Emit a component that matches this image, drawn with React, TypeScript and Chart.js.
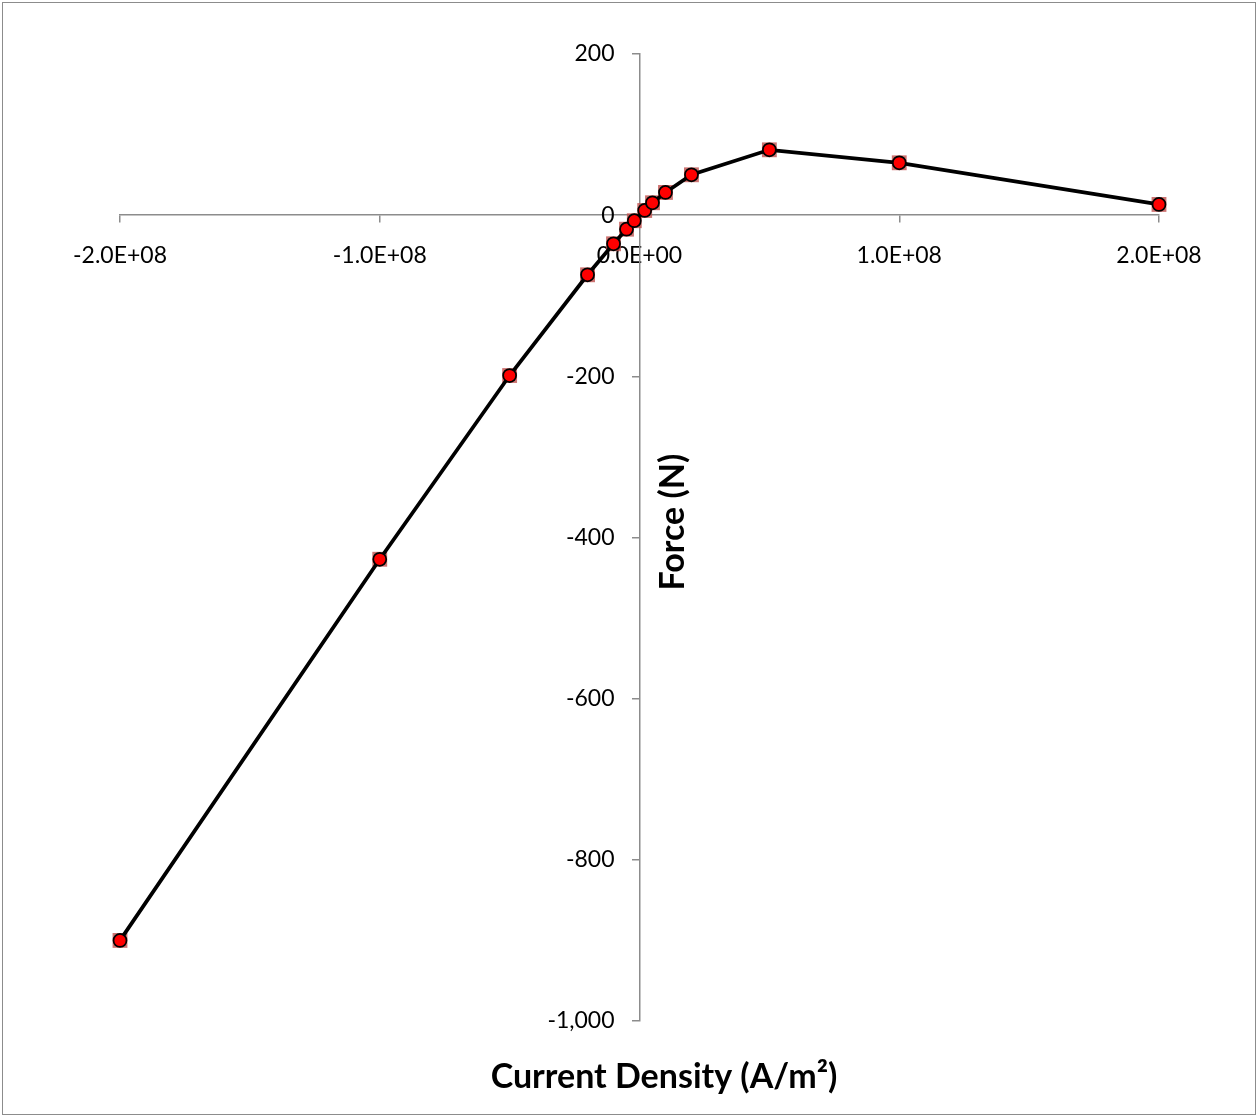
import React, { useEffect, useRef } from "react";
import { Chart, registerables } from "chart.js";

Chart.register(...registerables);

const currentDensity = [-2e8, -1e8, -5e7, -2e7, -1e7, -5e6, -2e6, 2e6, 5e6, 1e7, 2e7, 5e7, 1e8, 2e8];
const force = [-900, -427, -199, -74, -35.5, -17.4, -6.9, 5.8, 15.4, 28.2, 50.1, 81.1, 65, 13.3];
const xTicks = [-2e8, -1e8, 0, 1e8, 2e8];
const yTicks = [-1000, -800, -600, -400, -200, 0, 200];
const xTitle = "Current Density (A/m²)";
const yTitle = "Force (N)";

const FONT = "Lato, 'Open Sans', sans-serif";

const fmtX = (v: number) => {
  const [m, e] = v.toExponential(1).toUpperCase().split("E");
  const sign = e.startsWith("-") ? "-" : "+";
  const digits = e.replace(/[+-]/, "").padStart(2, "0");
  return `${m}E${sign}${digits}`;
};
const fmtY = (v: number) => v.toLocaleString("en-US");

const decor = {
  id: "decor",
  afterDraw(chart: any) {
    const { ctx, width, height } = chart;
    const xs = chart.scales.x;
    const ys = chart.scales.y;
    ctx.save();
    ctx.strokeStyle = "#8c8c8c";
    ctx.lineWidth = 1;
    ctx.strokeRect(2.5, 2.5, width - 5, height - 5);
    // y tick labels
    ctx.fillStyle = "#000";
    ctx.font = `23px ${FONT}`;
    ctx.textAlign = "right";
    ctx.textBaseline = "middle";
    const x0 = xs.getPixelForValue(0);
    yTicks.forEach((v) => ctx.fillText(fmtY(v), x0 - 25, ys.getPixelForValue(v)));
    // titles
    ctx.font = `bold 34px ${FONT}`;
    ctx.textAlign = "center";
    ctx.fillText(xTitle, 664, 1077);
    ctx.translate(x0 + 34, 522);
    ctx.rotate(-Math.PI / 2);
    ctx.fillText(yTitle, 0, 0);
    ctx.restore();
  },
};

export default function App() {
  const ref = useRef<HTMLCanvasElement>(null);
  useEffect(() => {
    const pts = currentDensity.map((x, i) => ({ x, y: force[i] }));
    const chart = new Chart(ref.current!, {
      type: "scatter",
      data: {
        datasets: [
          {
            data: pts,
            showLine: true,
            clip: false,
            borderColor: "#000",
            borderWidth: 3.75,
            pointBackgroundColor: "#ff0000",
            pointBorderColor: "#000",
            pointBorderWidth: 1.75,
            pointRadius: 6.5,
            order: 0,
          },
          {
            data: pts,
            showLine: false,
            clip: false,
            pointStyle: "rect",
            pointRadius: 10.5,
            pointBackgroundColor: "rgba(192,80,77,0.8)",
            pointBorderWidth: 0,
            borderWidth: 0,
            order: 1,
          },
        ],
      },
      options: {
        animation: false,
        responsive: false,
        layout: { padding: { left: 120, right: 99, top: 54, bottom: 96 } },
        plugins: { legend: { display: false }, tooltip: { enabled: false } },
        scales: {
          x: {
            type: "linear",
            position: { y: 0 },
            min: -2e8,
            max: 2e8,
            afterBuildTicks: (s: any) => { s.ticks = xTicks.map((v) => ({ value: v })); },
            ticks: { callback: (v: any) => fmtX(Number(v)), font: { family: FONT, size: 23 }, color: "#000", padding: 20, maxRotation: 0, autoSkip: false },
            grid: { drawOnChartArea: false, drawTicks: true, tickLength: 7, color: "#8c8c8c", lineWidth: 1.5 },
            border: { color: "#8c8c8c", width: 1.5 },
          },
          y: {
            type: "linear",
            position: { x: 0 },
            min: -1000,
            max: 200,
            afterBuildTicks: (s: any) => { s.ticks = yTicks.map((v) => ({ value: v })); },
            ticks: { display: false, autoSkip: false },
            grid: { drawOnChartArea: false, drawTicks: true, tickLength: 7, color: "#8c8c8c", lineWidth: 1.5 },
            border: { color: "#8c8c8c", width: 1.5 },
          },
        },
      },
      plugins: [decor],
    });
    return () => chart.destroy();
  }, []);
  return (
    <div style={{ position: "fixed", left: 0, top: 0, width: 1258, height: 1117, background: "#fff" }}>
      <canvas ref={ref} width={1258} height={1117} style={{ width: 1258, height: 1117 }} />
    </div>
  );
}
